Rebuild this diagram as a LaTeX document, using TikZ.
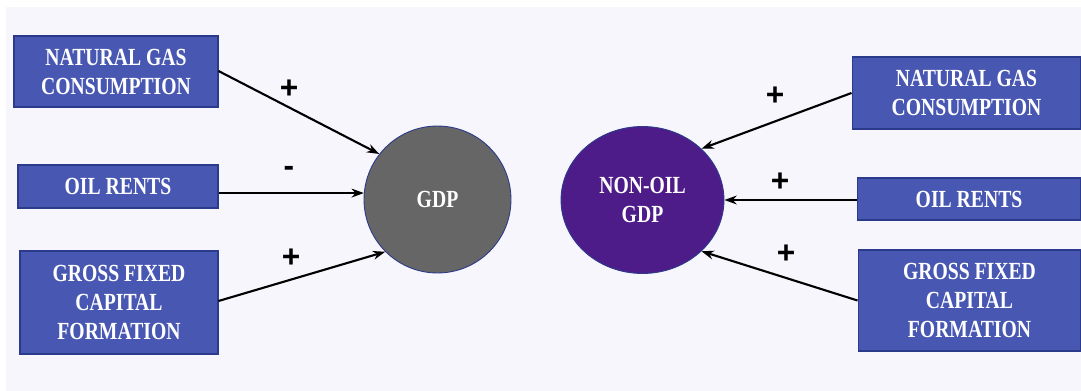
\documentclass[tikz,border=0pt]{standalone}
\usepackage{fontspec}
\usepackage{graphicx}
\usepackage{tikz}
\usetikzlibrary{shapes.geometric, arrows.meta, positioning, calc}

\setmainfont{Liberation Serif}
\newfontfamily\signfont{Liberation Sans}
\newcommand{\narrowline}[1]{\scalebox{0.8}[1]{#1}}

\definecolor{pagebg}{RGB}{246,246,252}
\definecolor{boxblue}{RGB}{72,88,178}
\definecolor{boxline}{RGB}{44,58,140}
\definecolor{gdpgray}{RGB}{102,102,102}
\definecolor{nogpurple}{RGB}{78,28,136}

\tikzset{
    varbox/.style={draw=boxline, fill=boxblue, line width=0.6pt, text=white, align=center,
        font=\rmfamily\bfseries\fontsize{14}{16.5}\selectfont, inner sep=0pt},
    target/.style={draw=boxline, line width=0.5pt, text=white, align=center,
        font=\rmfamily\bfseries\fontsize{14}{16.5}\selectfont, inner sep=0pt},
    sign/.style={font=\signfont\bfseries\fontsize{18}{18}\selectfont, inner sep=0pt},
    link/.style={-{Stealth[length=7pt, width=5pt]}, line width=1.2pt}
}

\begin{document}
\begin{tikzpicture}[x=0.02cm, y=-0.02cm]
    \useasboundingbox (0,0) rectangle (1081,391);
    % Background
    \fill[white] (0,0) rectangle (1081,391);
    \fill[pagebg] (6,7) rectangle (1081,391);

    % Left side: GDP
    \node[target, circle, fill=gdpgray, minimum size=2.94cm] (gdp) at (437.5,199.5) {\narrowline{GDP}};
    \node[varbox, minimum width=4.08cm, minimum height=1.42cm] (ng1) at (116,71.5) {\narrowline{NATURAL GAS}\\\narrowline{CONSUMPTION}};
    \node[varbox, minimum width=4.0cm, minimum height=0.86cm] (or1) at (118,186.5) {\narrowline{OIL RENTS}};
    \node[varbox, minimum width=3.96cm, minimum height=2.06cm] (gf1) at (119,302.5) {\narrowline{GROSS FIXED}\\\narrowline{CAPITAL}\\\narrowline{FORMATION}};

    \draw[link] (ng1.east |- 0,71) -- (gdp.142);
    \draw[link] (or1.east |- gdp.175) -- (gdp.175);
    \draw[link] (gf1.east |- 0,301) -- (gdp.225);

    \node[sign] (s1) at (289,89) {+};
    \node[sign] (s2) at (289,171) {-};
    \node[sign] (s3) at (291,258) {+};

    % Right side: non-oil GDP
    \node[target, ellipse, fill=nogpurple, minimum width=3.26cm, minimum height=2.94cm] (nog) at (642.5,200) {\narrowline{NON-OIL}\\\narrowline{GDP}};
    \node[varbox, minimum width=4.58cm, minimum height=1.44cm] (ng2) at (966.5,93) {\narrowline{NATURAL GAS}\\\narrowline{CONSUMPTION}};
    \node[varbox, minimum width=4.48cm, minimum height=0.84cm] (or2) at (969,199) {\narrowline{OIL RENTS}};
    \node[varbox, minimum width=4.46cm, minimum height=2.02cm] (gf2) at (969.5,300.5) {\narrowline{GROSS FIXED}\\\narrowline{CAPITAL}\\\narrowline{FORMATION}};

    \draw[link] (ng2.west) -- (nog.41);
    \draw[link] (or2.west |- nog.east) -- (nog.east);
    \draw[link] (gf2.west) -- (nog.319);

    \node[sign] (s4) at (775,96) {+};
    \node[sign] (s5) at (780,182) {+};
    \node[sign] (s6) at (786,254) {+};
\end{tikzpicture}
\end{document}
